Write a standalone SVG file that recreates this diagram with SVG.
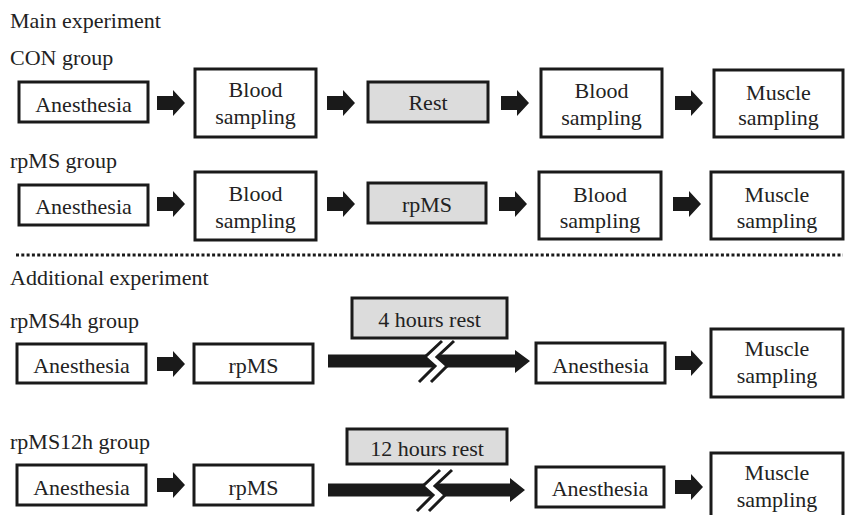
<svg xmlns="http://www.w3.org/2000/svg" xmlns:xlink="http://www.w3.org/1999/xlink" width="845" height="515" viewBox="0 0 845 515">
<style>
text{font-size:22px;fill:#222;}
.c{text-anchor:middle;}
.box{fill:#fff;stroke:#1a1a1a;stroke-width:3;}
.gbox{fill:#dcdcdc;stroke:#1a1a1a;stroke-width:3;}
.arr{fill:#1a1a1a;}
.brk{fill:none;stroke:#1a1a1a;stroke-width:3;}
</style>
<defs>
<path id="sa" d="M0,-7 H16 V-13 L28,0 L16,13 V7 H0 Z"/>
<g id="brk">
<polygon points="442,341 425,357 435,366 419,382 431,382 447,366 437,357 454,341" fill="#fff"/>
<polyline class="brk" points="442,341 425,357 435,366 419,382"/>
<polyline class="brk" points="454,341 437,357 447,366 431,382"/>
</g>
</defs>
<rect width="845" height="515" fill="#fff"/>
<g font-family="'Liberation Serif', 'Times New Roman', 'DejaVu Serif', serif">
<text x="10" y="28">Main experiment</text>
<text x="10" y="65">CON group</text>
<text x="10" y="168">rpMS group</text>
<text x="10" y="285">Additional experiment</text>
<text x="10" y="328">rpMS4h group</text>
<text x="10" y="449">rpMS12h group</text>

<g id="n-a1"><rect class="box" x="19" y="82" width="129" height="40"/><text class="c" x="83.5" y="112">Anesthesia</text></g>
<g id="n-b1"><rect class="box" x="195" y="69" width="121" height="68"/><text class="c" x="255.5" y="97">Blood</text><text class="c" x="255.5" y="124">sampling</text></g>
<g id="n-r1"><rect class="gbox" x="368" y="82" width="120" height="40"/><text class="c" x="428" y="110">Rest</text></g>
<g id="n-b1b"><rect class="box" x="541" y="69" width="121" height="68"/><text class="c" x="601.5" y="98">Blood</text><text class="c" x="601.5" y="125">sampling</text></g>
<g id="n-m1"><rect class="box" x="714" y="70" width="129" height="67"/><text class="c" x="778.5" y="100">Muscle</text><text class="c" x="778.5" y="125">sampling</text></g>

<g id="n-a2"><rect class="box" x="19" y="185" width="129" height="40"/><text class="c" x="83.5" y="214">Anesthesia</text></g>
<g id="n-b2"><rect class="box" x="195" y="172" width="121" height="68"/><text class="c" x="255.5" y="201">Blood</text><text class="c" x="255.5" y="228">sampling</text></g>
<g id="n-r2"><rect class="gbox" x="368" y="183" width="118" height="40"/><text class="c" x="427" y="212">rpMS</text></g>
<g id="n-b2b"><rect class="box" x="539" y="172" width="122" height="67"/><text class="c" x="600" y="202">Blood</text><text class="c" x="600" y="228">sampling</text></g>
<g id="n-m2"><rect class="box" x="711" y="172" width="132" height="67"/><text class="c" x="777" y="202">Muscle</text><text class="c" x="777" y="228">sampling</text></g>

<g id="n-a3"><rect class="box" x="17" y="344" width="129" height="39"/><text class="c" x="81.5" y="373">Anesthesia</text></g>
<g id="n-p3"><rect class="box" x="194" y="344" width="119" height="39"/><text class="c" x="253.5" y="373">rpMS</text></g>
<g id="n-t3"><rect class="gbox" x="352" y="298" width="155" height="40"/><text class="c" x="429.5" y="327">4 hours rest</text></g>
<g id="n-a3b"><rect class="box" x="536" y="343" width="129" height="40"/><text class="c" x="600.5" y="373">Anesthesia</text></g>
<g id="n-m3"><rect class="box" x="711" y="329" width="132" height="68"/><text class="c" x="777" y="356">Muscle</text><text class="c" x="777" y="383">sampling</text></g>

<g id="n-a4"><rect class="box" x="17" y="465" width="129" height="40"/><text class="c" x="81.5" y="495">Anesthesia</text></g>
<g id="n-p4"><rect class="box" x="194" y="465" width="119" height="40"/><text class="c" x="253.5" y="495">rpMS</text></g>
<g id="n-t4"><rect class="gbox" x="347" y="429" width="160" height="35"/><text class="c" x="427" y="456">12 hours rest</text></g>
<g id="n-a4b"><rect class="box" x="536" y="467" width="128" height="40"/><text class="c" x="600" y="496">Anesthesia</text></g>
<g id="n-m4"><rect class="box" x="711" y="453" width="132" height="70"/><text class="c" x="777" y="480">Muscle</text><text class="c" x="777" y="507">sampling</text></g>
</g>

<line x1="16" y1="255" x2="843" y2="255" stroke="#1a1a1a" stroke-width="3" stroke-dasharray="3 2.3"/>

<g id="connectors" class="arr">
<use xlink:href="#sa" x="157" y="103"/>
<use xlink:href="#sa" x="327" y="103"/>
<use xlink:href="#sa" x="501" y="103"/>
<use xlink:href="#sa" x="675" y="103"/>
<use xlink:href="#sa" x="157" y="204"/>
<use xlink:href="#sa" x="327" y="204"/>
<use xlink:href="#sa" x="499" y="204"/>
<use xlink:href="#sa" x="673" y="204"/>
<use xlink:href="#sa" x="157" y="364"/>
<use xlink:href="#sa" x="675" y="363"/>
<use xlink:href="#sa" x="157" y="485"/>
<use xlink:href="#sa" x="675" y="487"/>
<path d="M328,354.5 H515 V350 L530,361 L515,373 V367.5 H328 Z"/>
<use xlink:href="#brk"/>
<path d="M328,483.5 H510 V478 L525,490 L510,502 V496.5 H328 Z"/>
<use xlink:href="#brk" x="-2" y="129"/>
</g>
</svg>
